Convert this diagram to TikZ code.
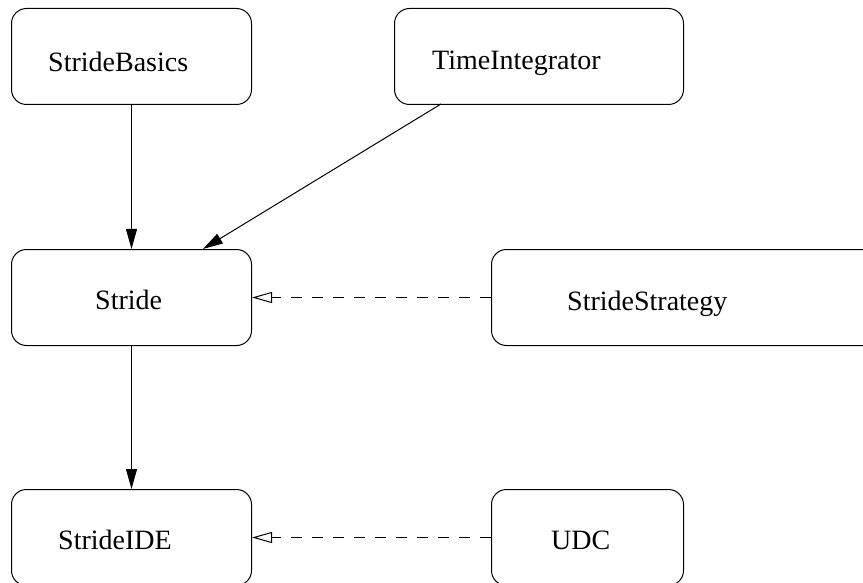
\documentclass[tikz,border=0pt]{standalone}
\usepackage{fontspec}
\setmainfont{Liberation Serif}
\usetikzlibrary{arrows.meta}
\begin{document}
\begin{tikzpicture}[x=1pt,y=-1pt,
  box/.style={draw, line width=1pt, rounded corners=15pt, anchor=north west, inner sep=0pt, minimum height=96pt},
  lbl/.style={anchor=base west, inner sep=0pt, font=\fontsize{28}{32}\selectfont},
  solidarrow/.style={line width=1pt, -{Triangle[length=20pt,width=11pt]}},
  realize/.style={line width=1pt, dash pattern=on 11pt off 10pt, -{Triangle[open,length=20pt,width=11pt,fill=white]}}]
\useasboundingbox (0,0) rectangle (863,583);
\clip (0,0) rectangle (863,583);
\node[box, minimum width=240pt] (sb) at (11,8) {};
\node[box, minimum width=289pt] (ti) at (394,8) {};
\node[box, minimum width=240pt] (st) at (11,249) {};
\node[box, minimum width=390pt] (ss) at (491,249) {};
\node[box, minimum width=240pt] (ide) at (11,489) {};
\node[box, minimum width=192pt] (udc) at (491,489) {};
\node[lbl] (sbl) at (48,72) {StrideBasics};
\node[lbl] (til) at (432,70) {TimeIntegrator};
\node[lbl] (stl) at (95,309) {Stride};
\node[lbl] (ssl) at (567,310) {StrideStrategy};
\node[lbl] (idel) at (58,549) {StrideIDE};
\node[lbl] (udcl) at (551,549) {UDC};
\coordinate (tiS) at (441,104);
\coordinate (stN) at (203,249);
\draw[solidarrow] (sb.south) -- (st.north);
\draw[solidarrow] (tiS) -- (stN);
\draw[solidarrow] (st.south) -- (ide.north);
\draw[realize] (ss.west) -- (st.east);
\draw[realize] (udc.west) -- (ide.east);
\end{tikzpicture}
\end{document}
